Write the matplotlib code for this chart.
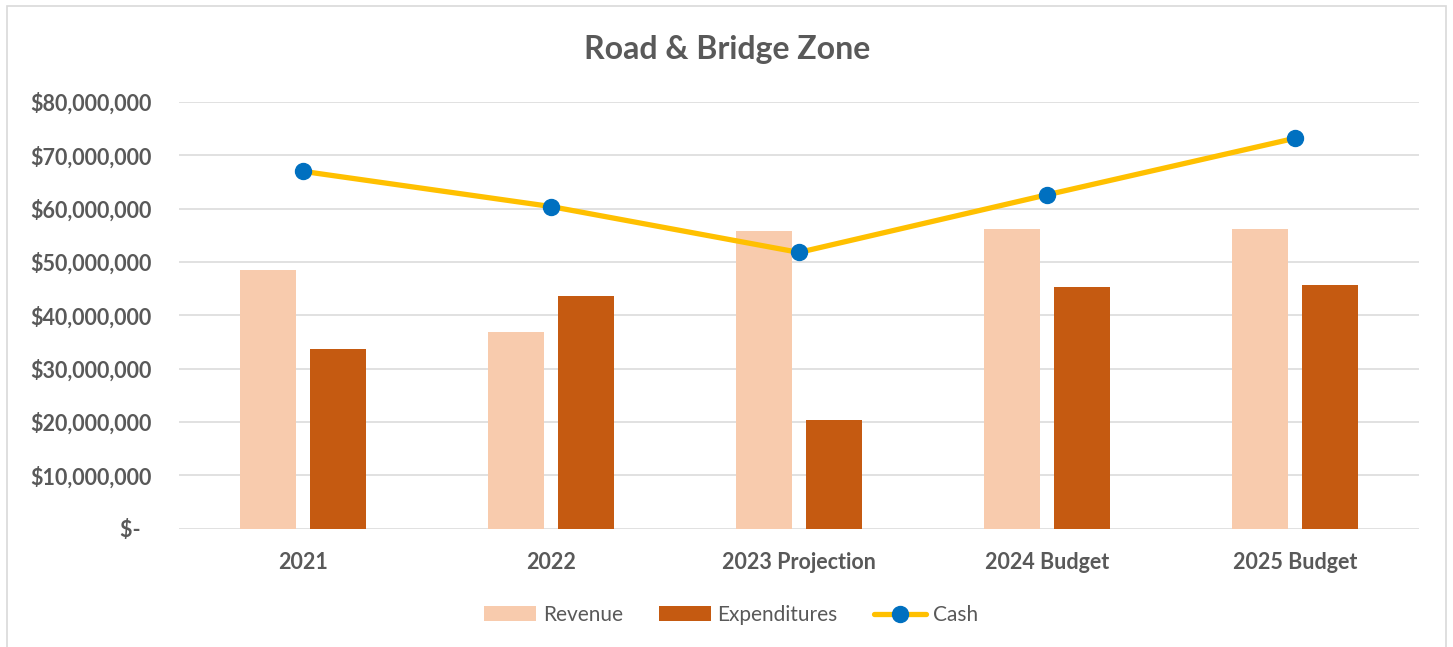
import numpy as np
import matplotlib
matplotlib.use("Agg")
import matplotlib.pyplot as plt
from matplotlib.patches import Rectangle
from matplotlib.ticker import FuncFormatter

categories = ["2021", "2022", "2023 Projection", "2024 Budget", "2025 Budget"]
revenue = [48.5e6, 36.9e6, 55.8e6, 56.2e6, 56.2e6]
expenditures = [33.6e6, 43.6e6, 20.4e6, 45.4e6, 45.7e6]
cash = [67.0e6, 60.4e6, 51.8e6, 62.6e6, 73.2e6]

plt.rcParams['font.family'] = ['Lato', 'DejaVu Sans']
TXT = '#595959'
W, H = 1453, 647
fig = plt.figure(figsize=(W/100, H/100), dpi=100)
fig.patch.set_facecolor('white')
ax = fig.add_axes([179/W, 1-528.7/H, (1419-179)/W, (528.7-102)/H])

x = np.arange(len(categories))
bw = 0.226
off = 0.1425
b1 = ax.bar(x - off, revenue, bw, color='#F8CBAD', label='Revenue', zorder=2)
b2 = ax.bar(x + off, expenditures, bw, color='#C55A11', label='Expenditures', zorder=2)
ln, = ax.plot(x, cash, color='#FFC000', lw=3.8, marker='o', markersize=11.5,
              markerfacecolor='#0070C0', markeredgecolor='#0070C0', label='Cash', zorder=3,
              solid_capstyle='round')

ax.set_xlim(-0.5, len(categories) - 0.5)
ax.set_ylim(0, 80e6)
ax.set_yticks(np.arange(0, 80e6 + 1, 10e6))

def fmt(v, pos):
    if v == 0:
        return '$-  '
    return '${:,.0f}'.format(v)
ax.yaxis.set_major_formatter(FuncFormatter(fmt))
ax.set_xticks(x)
ax.set_xticklabels(categories)
ax.grid(axis='y', color='#d9d9d9', lw=1.1, zorder=0)
ax.set_axisbelow(True)
for s in ax.spines.values():
    s.set_visible(False)
ax.tick_params(axis='both', length=0, colors=TXT, labelsize=15.5)
ax.tick_params(axis='y', pad=20)
ax.tick_params(axis='x', pad=17)
for lab in ax.get_xticklabels() + ax.get_yticklabels():
    lab.set_fontweight('bold')
    lab.set_color(TXT)

fig.text(727.5/W, 1-49/H, 'Road & Bridge Zone', ha='center', va='center',
         fontsize=23, fontweight='bold', color=TXT)

leg = fig.legend([b1, b2, ln], ['Revenue', 'Expenditures', 'Cash'], loc='center',
                 bbox_to_anchor=(731/W, 32/H), ncol=3, frameon=False,
                 fontsize=15, handlelength=2.5, handletextpad=0.3, columnspacing=1.75)
for t in leg.get_texts():
    t.set_color(TXT)

fig.patches.append(Rectangle((7/W, -0.1), (1446-7)/W, 1.1 - 6/H, transform=fig.transFigure,
                             fill=False, edgecolor='#d9d9d9', lw=1.2))

fig.savefig('out.png', dpi=100)
